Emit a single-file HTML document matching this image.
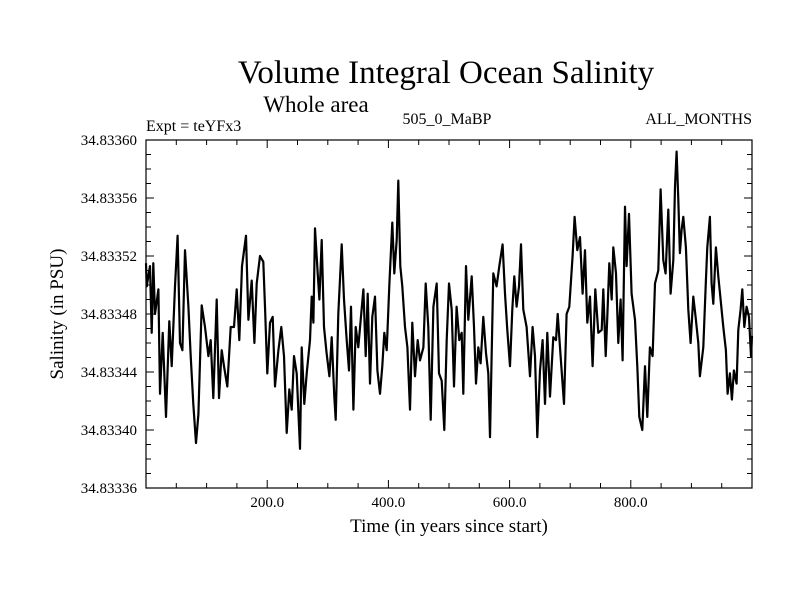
<!DOCTYPE html>
<html><head><meta charset="utf-8"><style>
html,body{margin:0;padding:0;background:#fff;}
svg text{font-family:"Liberation Serif",serif;fill:#000;}
</style></head><body>
<svg id="chart" width="800" height="600" xmlns="http://www.w3.org/2000/svg">
<rect width="800" height="600" fill="#fff"/>
<text x="446" y="83" font-size="33" text-anchor="middle">Volume Integral Ocean Salinity</text>
<text x="316" y="112" font-size="23" text-anchor="middle">Whole area</text>
<text x="146" y="131" font-size="16">Expt = teYFx3</text>
<text x="447" y="124" font-size="16" text-anchor="middle">505_0_MaBP</text>
<text x="752" y="124" font-size="16" text-anchor="end">ALL_MONTHS</text>
<text x="449" y="532" font-size="19" text-anchor="middle">Time (in years since start)</text>
<text x="0" y="0" font-size="19" text-anchor="middle" transform="translate(63,314) rotate(-90)">Salinity (in PSU)</text>
<g id="ticks"></g>
<g id="labels"></g>
<path id="series" fill="none" stroke="#000" stroke-width="2.2" stroke-linejoin="round"/>
<rect x="146" y="140" width="606" height="348" fill="none" stroke="#000" stroke-width="1.2"/>
</svg>
<script>
const yearTicks = [200, 400, 600, 800];
const yearTickLabels = ["200.0", "400.0", "600.0", "800.0"];
const salTicks = [34.83336, 34.83340, 34.83344, 34.83348, 34.83352, 34.83356, 34.83360];
const salTickLabels = ["34.83336", "34.83340", "34.83344", "34.83348", "34.83352", "34.83356", "34.83360"];
const years = [0,1.1,6.6,9.4,12.1,14.9,20.4,23.1,27.5,33.0,38.5,42.4,47.9,52.2,56.1,60.0,64.4,69.9,73.7,78.1,82.5,86.4,91.9,97.4,102.9,106.7,111.1,116.6,120.5,124.9,128.7,134.2,139.7,145.2,149.6,154.0,158.4,165.0,168.9,174.4,178.8,182.6,188.1,193.6,196.4,200.2,204.6,209.0,212.9,218.4,223.3,227.7,232.1,236.5,240.4,244.2,
248.7,254.2,256.9,261.3,265.2,270.7,273.4,276.2,278.9,283.3,286.1,289.9,293.8,298.1,302.6,306.4,310.8,313.0,317.4,322.9,326.8,331.2,335.0,338.3,342.2,346.0,350.4,354.3,358.7,362.5,365.8,369.7,373.5,377.9,381.8,386.2,390.0,393.3,397.2,401.6,406.5,409.8,413.7,416.4,419.7,423.0,427.4,431.3,435.7,439.5,443.9,448.3,452.2,457.7,461.5,465.9,469.8,474.2,479.7,483.5,487.9,492.3,496.2,500.0,
504.4,508.2,512.6,517.0,520.9,523.6,528.0,531.9,537.4,541.2,544.5,548.4,552.2,556.6,561.0,564.9,567.6,573.1,578.6,583.0,588.5,592.4,596.2,600.6,604.5,607.8,611.6,615.5,618.8,622.6,628.1,633.6,638.0,641.9,645.7,650.1,654.5,658.4,662.2,666.6,672.1,676.5,679.3,684.2,689.7,694.1,698.5,704.0,707.3,711.7,716.1,720.5,724.4,728.2,732.6,737.0,741.4,746.4,
751.9,754.6,758.5,761.2,764.5,768.4,771.1,775.5,779.4,783.2,786.5,790.4,793.1,797.0,801.4,806.9,810.7,814.0,819.0,823.4,827.2,831.6,836.0,839.9,845.4,849.2,853.6,857.5,861.9,865.7,870.1,872.9,875.6,878.4,881.1,883.9,886.6,891.0,894.9,898.7,903.1,907.0,911.4,914.1,919.6,924.0,926.2,930.6,933.4,936.1,940.5,944.4,948.2,952.6,957.0,959.8,963.6,966.9,970.2,974.6,977.4,981.2,984.0,987.3,991.1,995.0,998.3,1000];
const salinity = [34.833515,34.833499,34.833513,34.833467,34.833515,34.833480,34.833497,34.833425,34.833467,34.833409,34.833475,34.833444,34.833499,34.833534,34.833460,34.833455,34.833524,34.833485,34.833451,34.833418,34.833391,34.833411,34.833486,34.833471,34.833451,34.833462,34.833422,34.833490,34.833422,34.833455,34.833444,34.833430,34.833471,34.833471,34.833497,34.833462,34.833513,34.833534,34.833476,34.833503,34.833460,34.833501,34.833520,34.833516,34.833485,34.833439,34.833474,34.833478,34.833430,34.833455,34.833471,34.833451,34.833398,34.833428,34.833414,34.833451,
34.833439,34.833387,34.833457,34.833418,34.833439,34.833462,34.833492,34.833474,34.833539,34.833508,34.833490,34.833531,34.833471,34.833453,34.833437,34.833464,34.833423,34.833407,34.833480,34.833528,34.833490,34.833462,34.833441,34.833485,34.833414,34.833471,34.833457,34.833476,34.833497,34.833451,34.833494,34.833432,34.833478,34.833492,34.833441,34.833425,34.833444,34.833467,34.833455,34.833501,34.833543,34.833508,34.833531,34.833572,34.833513,34.833499,34.833471,34.833457,34.833414,34.833474,34.833437,34.833462,34.833448,34.833457,34.833501,34.833471,34.833407,34.833485,34.833501,34.833439,34.833434,34.833400,34.833462,34.833501,
34.833483,34.833430,34.833485,34.833462,34.833467,34.833425,34.833513,34.833476,34.833506,34.833471,34.833432,34.833457,34.833446,34.833478,34.833453,34.833439,34.833395,34.833508,34.833499,34.833513,34.833528,34.833494,34.833469,34.833444,34.833483,34.833506,34.833485,34.833499,34.833528,34.833483,34.833471,34.833437,34.833471,34.833451,34.833395,34.833441,34.833462,34.833418,34.833467,34.833423,34.833464,34.833462,34.833480,34.833451,34.833418,34.833480,34.833485,34.833520,34.833547,34.833524,34.833533,34.833494,34.833524,34.833474,34.833492,34.833444,34.833497,34.833467,
34.833469,34.833497,34.833451,34.833478,34.833515,34.833490,34.833526,34.833508,34.833460,34.833490,34.833448,34.833554,34.833513,34.833549,34.833494,34.833476,34.833444,34.833409,34.833400,34.833444,34.833409,34.833457,34.833451,34.833501,34.833510,34.833566,34.833517,34.833508,34.833552,34.833494,34.833517,34.833568,34.833592,34.833559,34.833522,34.833538,34.833547,34.833526,34.833483,34.833460,34.833492,34.833478,34.833460,34.833437,34.833457,34.833503,34.833526,34.833547,34.833501,34.833487,34.833526,34.833506,34.833490,34.833471,34.833455,34.833425,34.833439,34.833421,34.833441,34.833432,34.833469,34.833483,34.833497,34.833471,34.833485,34.833478,34.833451,34.833465];

const X0 = 146, X1 = 752, Y0 = 488, Y1 = 140;
const xMin = 0, xMax = 1000, yMin = 34.83336, yMax = 34.83360;
function xs(v){ return X0 + (v - xMin) / (xMax - xMin) * (X1 - X0); }
function ys(v){ return Y0 - (v - yMin) / (yMax - yMin) * (Y0 - Y1); }
const NS = "http://www.w3.org/2000/svg";
const tg = document.getElementById('ticks');
const lg = document.getElementById('labels');
function line(x1,y1,x2,y2,name){
  const l = document.createElementNS(NS,'line');
  l.setAttribute('x1',x1); l.setAttribute('y1',y1); l.setAttribute('x2',x2); l.setAttribute('y2',y2);
  l.setAttribute('stroke','#000'); l.setAttribute('stroke-width','1');
  
  
  tg.appendChild(l);
}
for (let v = 50; v < 1000; v += 50) {
  const x = xs(v);
  const major = v % 200 === 0;
  const len = major ? 8 : 5;
  line(x, Y0, x, Y0 - len, 'x-tick');
  line(x, Y1, x, Y1 + len, 'x-tick-top');
}
for (let i = 1; i < 24; i++) {
  const v = yMin + i * 0.00001;
  const y = ys(v);
  const major = i % 4 === 0;
  const len = major ? 8 : 5;
  line(X0, y, X0 + len, y, 'y-tick');
  line(X1, y, X1 - len, y, 'y-tick-right');
}
yearTicks.forEach((v, i) => {
  const t = document.createElementNS(NS,'text');
  t.setAttribute('x', xs(v)); t.setAttribute('y', 507);
  t.setAttribute('font-size','15'); t.setAttribute('text-anchor','middle');
  t.textContent = yearTickLabels[i];
  
  
  lg.appendChild(t);
});
salTicks.forEach((v, i) => {
  const t = document.createElementNS(NS,'text');
  t.setAttribute('x', 137); t.setAttribute('y', ys(v) + 5);
  t.setAttribute('font-size','15'); t.setAttribute('text-anchor','end');
  t.textContent = salTickLabels[i];
  
  
  lg.appendChild(t);
});
let d = '';
years.forEach((yr, i) => { d += (i ? 'L' : 'M') + xs(yr).toFixed(1) + ',' + ys(salinity[i]).toFixed(1); });
document.getElementById('series').setAttribute('d', d);
</script>
</body></html>
